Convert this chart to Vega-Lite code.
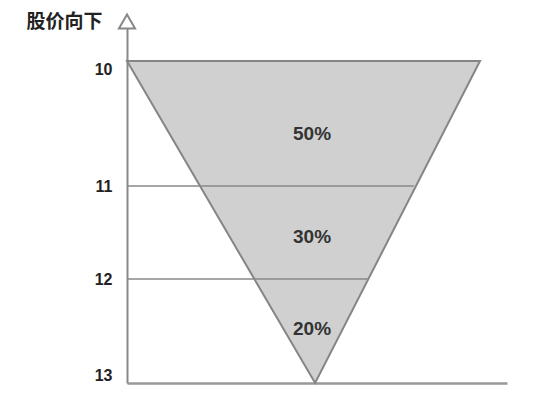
{
  "$schema": "https://vega.github.io/schema/vega-lite/v6.json",
  "autosize": {"type": "none"},
  "width": 380,
  "height": 368,
  "padding": {"left": 127, "top": 15, "right": 28, "bottom": 20},
  "background": "white",
  "config": {"view": {"stroke": null}},
  "datasets": {
    "triangle": [
      {"price": 10, "left": 0, "right": 92.9},
      {"price": 13, "left": 49.5, "right": 49.5}
    ],
    "levels": [
      {"price": 11, "start": 0, "end": 75.5},
      {"price": 12, "start": 0, "end": 63.3}
    ],
    "shares": [
      {"price": 10.58, "pos": 48.7, "share": "50%"},
      {"price": 11.55, "pos": 48.7, "share": "30%"},
      {"price": 12.48, "pos": 48.7, "share": "20%"}
    ],
    "arrow": [{"price": 9.52, "pos": 0}]
  },
  "encoding": {
    "y": {
      "field": "price",
      "type": "quantitative",
      "scale": {"domain": [9.52, 10, 11, 12, 13], "range": [6.5, 46, 171, 264, 368], "nice": false, "zero": false},
      "axis": {
        "values": [10, 11, 12, 13],
        "grid": false,
        "ticks": false,
        "labelPadding": 15,
        "labelFont": "Liberation Sans",
        "labelFontSize": 16,
        "labelFontWeight": "bold",
        "labelColor": "#222",
        "labelBaseline": {"condition": [{"test": "datum.value == 10", "value": "top"}, {"test": "datum.value == 13", "value": "bottom"}], "value": "middle"},
        "domainColor": "#888",
        "domainWidth": 2,
        "title": "股价向下",
        "titleAngle": 0,
        "titleX": -63,
        "titleY": 6,
        "titleAlign": "center",
        "titleBaseline": "middle",
        "titleFont": "Noto Sans CJK SC",
        "titleFontSize": 19,
        "titleFontWeight": "bold",
        "titleColor": "#222"
      }
    }
  },
  "layer": [
    {
      "data": {"name": "triangle"},
      "mark": {"type": "area", "orient": "horizontal", "fill": "#d0d0d0", "stroke": "#858585", "strokeWidth": 2, "opacity": 1},
      "encoding": {
        "x": {
          "field": "left",
          "type": "quantitative",
          "scale": {"domain": [0, 100], "nice": false, "zero": false},
          "axis": {"labels": false, "ticks": false, "grid": false, "title": null, "domainColor": "#999", "domainWidth": 2.5}
        },
        "x2": {"field": "right"}
      }
    },
    {
      "data": {"name": "levels"},
      "mark": {"type": "rule", "color": "#888", "strokeWidth": 1.5},
      "encoding": {
        "x": {"field": "start", "type": "quantitative"},
        "x2": {"field": "end"}
      }
    },
    {
      "data": {"name": "shares"},
      "mark": {"type": "text", "font": "Liberation Sans", "fontSize": 19, "fontWeight": "bold", "color": "#333", "baseline": "middle", "align": "center"},
      "encoding": {
        "x": {"field": "pos", "type": "quantitative"},
        "text": {"field": "share"}
      }
    },
    {
      "data": {"name": "arrow"},
      "mark": {"type": "point", "shape": "triangle-up", "size": 260, "filled": true, "fill": "white", "stroke": "#888", "strokeWidth": 2, "opacity": 1},
      "encoding": {
        "x": {"field": "pos", "type": "quantitative"}
      }
    }
  ]
}
